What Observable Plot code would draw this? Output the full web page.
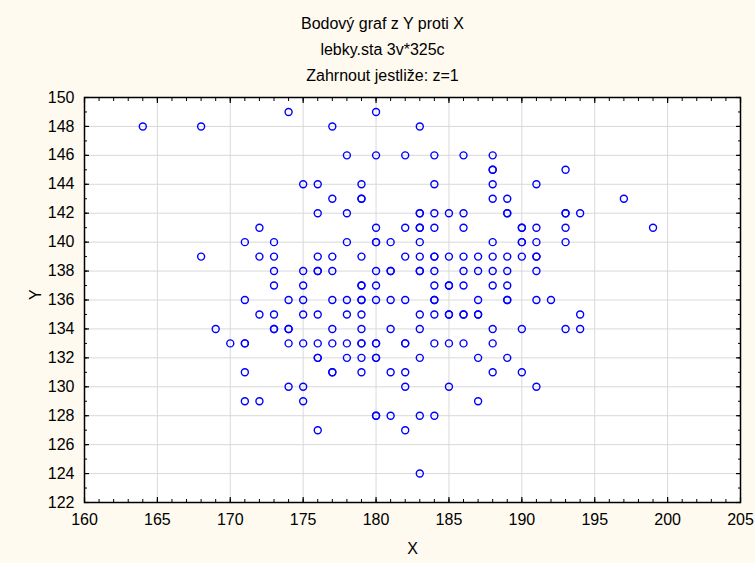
<!DOCTYPE html>
<html>
<head>
<meta charset="utf-8">
<script src="https://cdn.jsdelivr.net/npm/d3@7"></script>
<script src="https://cdn.jsdelivr.net/npm/@observablehq/plot@0.6"></script>
<style>
  html, body { margin: 0; padding: 0; background: #FFFAEF; }
  #wrap { position: relative; width: 755px; height: 563px; overflow: hidden; }
  #titles { position: relative; width: 755px; height: 85px; font-family: "Liberation Sans", Arial, sans-serif; font-size: 16px; color: #000; }
  #titles div { position: absolute; left: 5px; width: 755px; text-align: center; line-height: 26px; height: 26px; }
  #chart svg { display: block; }
</style>
</head>
<body>
<div id="wrap">
  <div id="titles">
    <div style="top:11px">Bodový graf z Y proti X</div>
    <div style="top:37px">lebky.sta 3v*325c</div>
    <div style="top:63px">Zahrnout jestliže: z=1</div>
  </div>
  <div id="chart"></div>
</div>
<script>
// ---- data: y level and the X values of the points at that level ----
const yLevels = [149, 148, 146, 145, 144, 143, 142, 141, 140, 139, 138, 137, 136, 135, 134, 133, 132, 131, 130, 129, 128, 127, 124];
const xAtLevel = [
  [174, 180],
  [164, 168, 177, 183],
  [178, 180, 182, 184, 186, 188],
  [188, 188, 193],
  [175, 176, 179, 184, 188, 191],
  [177, 179, 179, 188, 189, 197],
  [176, 178, 183, 183, 184, 185, 186, 189, 189, 193, 193, 194],
  [172, 180, 182, 183, 183, 184, 186, 190, 190, 191, 193, 199],
  [171, 173, 178, 180, 180, 181, 183, 188, 190, 190, 191, 193],
  [168, 172, 173, 176, 177, 179, 182, 183, 184, 184, 185, 186, 187, 188, 189, 190, 191, 191],
  [173, 175, 176, 176, 177, 180, 181, 181, 183, 183, 184, 186, 187, 188, 189, 191],
  [173, 175, 179, 179, 180, 184, 185, 185, 186, 188, 189],
  [171, 174, 175, 177, 178, 179, 179, 180, 181, 182, 184, 184, 187, 189, 189, 191, 192],
  [172, 173, 175, 176, 178, 179, 183, 184, 185, 185, 186, 186, 187, 187, 194],
  [169, 173, 173, 174, 174, 177, 179, 181, 183, 188, 190, 193, 194],
  [170, 171, 171, 174, 175, 176, 177, 178, 179, 179, 180, 180, 182, 182, 184, 185, 186, 188],
  [176, 176, 178, 179, 180, 180, 183, 187, 189],
  [171, 177, 177, 179, 181, 182, 188, 190],
  [174, 175, 182, 185, 191],
  [171, 172, 175, 187],
  [180, 180, 181, 183, 184],
  [176, 182],
  [183]
];
const xTickLabels = [160, 165, 170, 175, 180, 185, 190, 195, 200, 205];
const yTickLabels = [122, 124, 126, 128, 130, 132, 134, 136, 138, 140, 142, 144, 146, 148, 150];
const xGrid = [165, 170, 175, 180, 185, 190, 195, 200];
const yGrid = [124, 126, 128, 130, 132, 134, 136, 138, 140, 142, 144, 146, 148];
const xMinor = d3.range(160, 206, 1);
const yMinor = d3.range(122, 151, 1);

const points = [];
yLevels.forEach((yv, i) => xAtLevel[i].forEach(xv => points.push({x: xv, y: yv})));

const chart = Plot.plot({
  width: 755,
  height: 478,
  marginTop: 12,
  marginBottom: 61,
  marginLeft: 84,
  marginRight: 15,
  style: {background: "transparent", fontFamily: "'Liberation Sans', Arial, sans-serif", fontSize: "16px", color: "#000"},
  x: {domain: [160, 205]},
  y: {domain: [122, 150]},
  marks: [
    Plot.frame({fill: "white", stroke: null}),
    Plot.ruleX(xGrid, {stroke: "#D9D9D9", strokeWidth: 1}),
    Plot.ruleY(yGrid, {stroke: "#D9D9D9", strokeWidth: 1}),
    // inward minor ticks
    Plot.axisX(xMinor, {anchor: "bottom", tickSize: -3, text: null, label: null, strokeWidth: 1}),
    Plot.axisX(xMinor, {anchor: "top", tickSize: -3, text: null, label: null, strokeWidth: 1}),
    Plot.axisY(yMinor, {anchor: "left", tickSize: -3, text: null, label: null, strokeWidth: 1}),
    Plot.axisY(yMinor, {anchor: "right", tickSize: -3, text: null, label: null, strokeWidth: 1}),
    // inward major ticks
    Plot.axisX(xTickLabels, {anchor: "bottom", tickSize: -5, text: null, label: null, strokeWidth: 1.2}),
    Plot.axisX(xTickLabels, {anchor: "top", tickSize: -5, text: null, label: null, strokeWidth: 1.2}),
    Plot.axisY(yTickLabels, {anchor: "left", tickSize: -5, text: null, label: null, strokeWidth: 1.2}),
    Plot.axisY(yTickLabels, {anchor: "right", tickSize: -5, text: null, label: null, strokeWidth: 1.2}),
    // labels
    Plot.axisX(xTickLabels, {anchor: "bottom", tickSize: 0, tickPadding: 11, label: null, fontSize: 16, fill: "#000"}),
    Plot.axisY(yTickLabels, {anchor: "left", tickSize: 0, tickPadding: 10, label: null, fontSize: 16, fill: "#000"}),
    Plot.dot(points, {x: "x", y: "y", r: 3.5, stroke: "#0000FF", strokeWidth: 1.4, fill: "none"}),
    Plot.frame({stroke: "#000", strokeWidth: 1.5}),
    Plot.text(["X"], {frameAnchor: "bottom", dy: 46, lineAnchor: "middle", fontSize: 16, fill: "#000"}),
    Plot.text(["Y"], {frameAnchor: "left", dx: -49, rotate: -90, fontSize: 16, fill: "#000"})
  ]
});
document.getElementById("chart").appendChild(chart);
</script>
</body>
</html>
